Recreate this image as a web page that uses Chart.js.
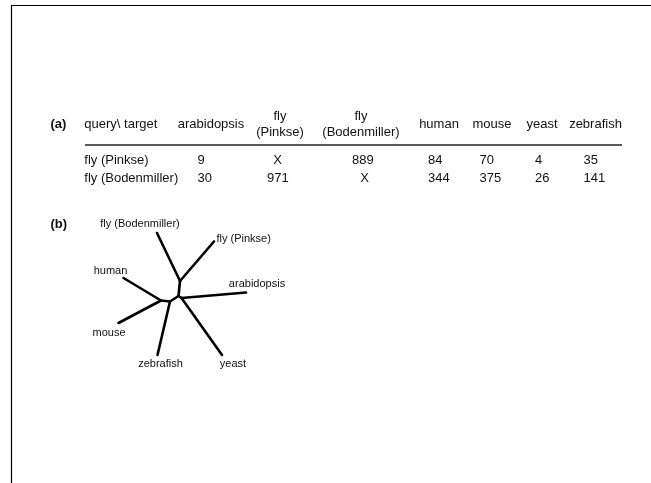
<!DOCTYPE html>
<html><head><meta charset="utf-8">
<script src="https://cdn.jsdelivr.net/npm/chart.js@4.4.1/dist/chart.umd.min.js"></script>
<style>html,body{margin:0;padding:0;background:#fff;overflow:hidden}canvas{display:block}</style>
</head><body>
<canvas id="c" width="651" height="483"></canvas>
<script>
// ---- data: table (a) ----
const targets = ['arabidopsis', ['fly', '(Pinkse)'], ['fly', '(Bodenmiller)'], 'human', 'mouse', 'yeast', 'zebrafish'];
const queries = ['fly (Pinkse)', 'fly (Bodenmiller)'];
const hitsFlyPinkse = ['9', 'X', '889', '84', '70', '4', '35'];
const hitsFlyBodenmiller = ['30', '971', 'X', '344', '375', '26', '141'];
const cornerLabel = 'query\\ target';

// ---- data: unrooted tree (b), node positions in tree units (y up) ----
const nodeNames = ['A', 'B', 'C', 'D', 'E', 'flyB', 'flyP', 'arab', 'yeast', 'zeb', 'human', 'mouse'];
const nodeX = [1.5, 0, 3, -8.5, -17.5, -21.5, 35.5, 67.5, 43.5, -21, -55, -60];
const nodeY = [15, 0, -2, -5.5, -4.5, 63, 54.5, 3.5, -59, -59, 18, -27];
const edgesFrom = ['A', 'A', 'A', 'B', 'C', 'C', 'B', 'D', 'D', 'E', 'E'];
const edgesTo = ['flyB', 'flyP', 'B', 'C', 'arab', 'yeast', 'D', 'zeb', 'E', 'human', 'mouse'];
const leafNodes = ['flyB', 'flyP', 'arab', 'human', 'mouse', 'zeb', 'yeast'];
const leafNames = ['fly (Bodenmiller)', 'fly (Pinkse)', 'arabidopsis', 'human', 'mouse', 'zebrafish', 'yeast'];

// ---- layout (pixels) ----
const FONT = '"Liberation Sans", Arial, Helvetica, sans-serif';
const headerCenters = [211, 280, 361, 439, 492, 542, 595.5];
const valueLefts = [197.5, 267, 352, 428, 479.5, 535, 583.5];
const crossCenters = [204, 277.5, 364.5, 439, 490, 541, 593];
const rowYs = [159, 177.5];
const labelOffsets = [[-17, -10, 'center'], [2.5, -3, 'left'], [11, -9, 'center'], [-13, -8, 'center'], [-9.5, 8.7, 'center'], [3, 8.3, 'center'], [11, 8.3, 'center']];

function node(n) { const i = nodeNames.indexOf(n); return { x: nodeX[i], y: nodeY[i] }; }

const datasets = edgesFrom.map((f, i) => ({
  data: [node(f), node(edgesTo[i])],
  showLine: true, borderColor: '#000', borderWidth: 2.6, pointRadius: 0,
  borderCapStyle: 'round', xAxisID: 'tx', yAxisID: 'ty'
}));

const overlay = {
  id: 'overlay',
  afterDraw(chart) {
    const ctx = chart.ctx, sx = chart.scales.x, sy = chart.scales.y, tx = chart.scales.tx, ty = chart.scales.ty;
    const X = v => sx.getPixelForValue(v), Y = v => sy.getPixelForValue(v);
    ctx.save();
    ctx.fillStyle = '#111';
    ctx.textBaseline = 'alphabetic';
    // frame
    ctx.strokeStyle = '#000'; ctx.lineWidth = 1.2;
    ctx.beginPath(); ctx.moveTo(X(651), Y(5.5)); ctx.lineTo(X(11.5), Y(5.5)); ctx.lineTo(X(11.5), Y(483)); ctx.stroke();
    // panel letters
    ctx.font = 'bold 13px ' + FONT; ctx.textAlign = 'left';
    ctx.fillText('(a)', X(50.5), Y(123 + 4.6));
    ctx.fillText('(b)', X(50.5), Y(223 + 4.6));
    // header
    ctx.font = '13px ' + FONT;
    ctx.fillText(cornerLabel, X(84.3), Y(123 + 4.6));
    ctx.textAlign = 'center';
    targets.forEach((t, i) => {
      if (Array.isArray(t)) {
        ctx.fillText(t[0], X(headerCenters[i]), Y(115 + 4.6));
        ctx.fillText(t[1], X(headerCenters[i]), Y(131 + 4.6));
      } else ctx.fillText(t, X(headerCenters[i]), Y(123 + 4.6));
    });
    // rule
    ctx.strokeStyle = '#222'; ctx.lineWidth = 1.3;
    ctx.beginPath(); ctx.moveTo(X(85), Y(145)); ctx.lineTo(X(622), Y(145)); ctx.stroke();
    // rows
    [hitsFlyPinkse, hitsFlyBodenmiller].forEach((row, r) => {
      ctx.textAlign = 'left';
      ctx.fillText(queries[r], X(84.3), Y(rowYs[r] + 4.6));
      row.forEach((v, i) => {
        if (v === 'X') { ctx.textAlign = 'center'; ctx.fillText(v, X(crossCenters[i]), Y(rowYs[r] + 4.6)); }
        else { ctx.textAlign = 'left'; ctx.fillText(v, X(valueLefts[i]), Y(rowYs[r] + 4.6)); }
      });
    });
    // tree leaf labels
    ctx.font = '11px ' + FONT;
    leafNodes.forEach((n, i) => {
      const p = node(n), o = labelOffsets[i];
      ctx.textAlign = o[2];
      ctx.fillText(leafNames[i], tx.getPixelForValue(p.x) + o[0], ty.getPixelForValue(p.y) + o[1] + 3.9);
    });
    ctx.restore();
  }
};

new Chart(document.getElementById('c'), {
  type: 'scatter',
  data: { datasets },
  options: {
    responsive: false, animation: false, devicePixelRatio: 1,
    layout: { padding: 0 },
    plugins: { legend: { display: false }, tooltip: { enabled: false } },
    events: [],
    scales: {
      x: { type: 'linear', min: 0, max: 651, display: false },
      y: { type: 'linear', min: 0, max: 483, reverse: true, display: false },
      tx: { type: 'linear', axis: 'x', min: -178.5, max: 472.5, display: false },
      ty: { type: 'linear', axis: 'y', min: -187, max: 296, display: false }
    }
  },
  plugins: [overlay]
});
</script>
</body></html>
